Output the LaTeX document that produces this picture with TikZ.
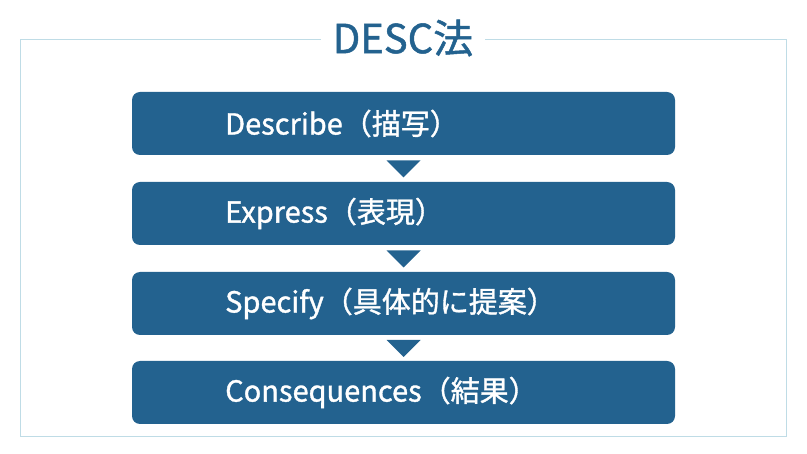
\documentclass[tikz,border=0pt]{standalone}
\usepackage{fontspec}
\setmainfont{Noto Sans CJK JP}
\newfontfamily\medf{Noto Sans CJK JP}[FakeBold=1.2]
\definecolor{boxblue}{HTML}{23628F}
\definecolor{framec}{HTML}{BFDCE6}
\begin{document}
\begin{tikzpicture}[x=1pt,y=-1pt,
  stepbox/.style={fill=boxblue,rounded corners=8pt,minimum width=543pt,minimum height=63pt,inner sep=0pt},
  lbl/.style={text=white,font=\medf\fontsize{29}{32}\selectfont,anchor=west,inner sep=0pt},
  tri/.style={fill=boxblue}]
\useasboundingbox (0,0) rectangle (807,454);
\draw[framec,line width=1pt] (20,40) rectangle (786,437);
\node[fill=white,text=boxblue,font=\medf\fontsize{40}{44}\selectfont,inner xsep=12pt] (title) at (403,38) {DESC法};
\foreach \i/\y/\t in {1/123.5/Describe（描写）,2/213.5/Express（表現）,3/303.5/Specify（具体的に提案）,4/392.5/Consequences（結果）}{
  \node[stepbox] (b\i) at (403.5,\y) {};
  \node[lbl] (t\i) at (225,\y) {\t};
}
\foreach \a/\b in {1/2,2/3,3/4}{
  \path (b\a.south) -- (b\b.north) coordinate[pos=0.5] (m\a);
  \fill[tri] ([xshift=-17pt,yshift=8pt]m\a) -- ([xshift=17pt,yshift=8pt]m\a) -- ([yshift=-9pt]m\a) -- cycle;
}
\end{tikzpicture}
\end{document}
